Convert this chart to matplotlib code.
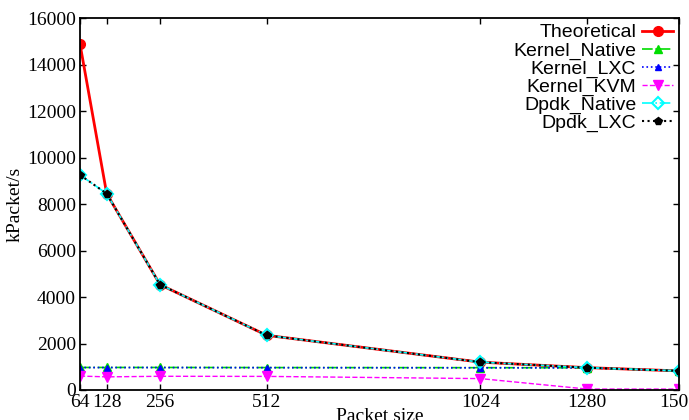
import matplotlib.pyplot as plt

# packet sizes and measured rates (kPacket/s)
packet_sizes = [64, 128, 256, 512, 1024, 1280, 1500]
tick_labels = ["64", "128", "256", "512", "1024", "1280", "1500"]

theoretical = [14880, 8445, 4529, 2350, 1197, 961, 822]
kernel_native = [970, 970, 970, 965, 960, 955, 822]
kernel_lxc = [965, 965, 965, 960, 955, 955, 822]
kernel_kvm = [600, 565, 590, 585, 490, 40, 40]
dpdk_native = [9250, 8445, 4529, 2350, 1197, 961, 822]
dpdk_lxc = [9250, 8445, 4529, 2350, 1197, 961, 822]

serif = ["Liberation Serif", "DejaVu Serif"]
sans = ["Liberation Sans", "DejaVu Sans"]

fig = plt.figure(figsize=(6.89, 4.2), dpi=100)
ax = fig.add_axes([80 / 689, 30 / 420, 599 / 689, 372 / 420])

ax.plot(packet_sizes, theoretical, color="red", ls="-", lw=2, marker="o", ms=7, label="Theoretical")
ax.plot(packet_sizes, kernel_native, color="#00dd00", ls="-.", lw=1.2, marker="^", ms=6, label="Kernel_Native")
ax.plot(packet_sizes, kernel_lxc, color="blue", ls=":", lw=1.2, marker="^", ms=5, label="Kernel_LXC")
ax.plot(packet_sizes, kernel_kvm, color="magenta", ls="--", lw=1.0, marker="v", ms=7, label="Kernel_KVM")
ax.plot(packet_sizes, dpdk_native, color="cyan", ls="-.", lw=1.2, marker="D", ms=6,
        mfc="none", mew=1.5, label="Dpdk_Native")
ax.plot(packet_sizes, dpdk_lxc, color="black", ls=":", lw=1.5, marker="p", ms=6, label="Dpdk_LXC")

ax.set_xlim(64, 1500)
ax.set_ylim(0, 16000)
ax.set_xticks(packet_sizes)
ax.set_xticklabels(tick_labels)
ax.set_yticks(range(0, 16001, 2000))

for lbl in ax.get_xticklabels() + ax.get_yticklabels():
    lbl.set_family(serif)
    lbl.set_fontsize(14)

ax.tick_params(direction="in", top=True, right=True, length=4, width=1, pad=3)
for s in ax.spines.values():
    s.set_linewidth(1.3)

ax.set_xlabel("Packet size", family=serif, fontsize=14, labelpad=-2)
ax.set_ylabel("kPacket/s", family=serif, fontsize=14, labelpad=2)

ax.legend(loc="upper right", frameon=False, markerfirst=False, prop={"family": sans, "size": 14},
          handlelength=1.6, handletextpad=0.3, labelspacing=0.02, borderaxespad=0.2,
          borderpad=0.1)

fig.savefig("out.png", dpi=100)
